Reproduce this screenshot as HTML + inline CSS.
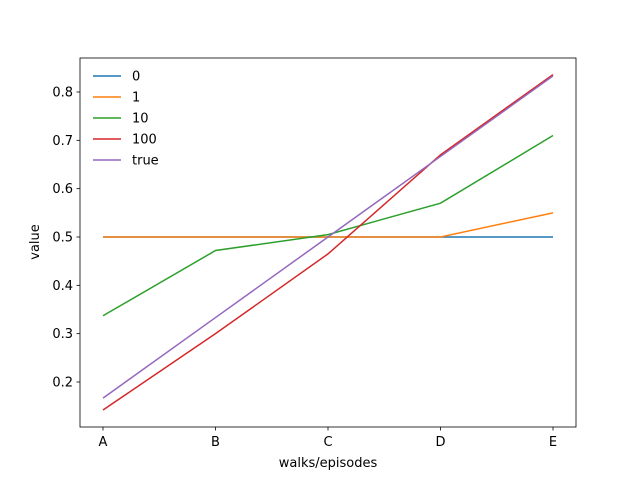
<!DOCTYPE html>
<html><head><meta charset="utf-8"><style>
body{margin:0;background:#fff;font-family:"Liberation Sans","DejaVu Sans",sans-serif;}
svg text{font-family:"DejaVu Sans","Liberation Sans",sans-serif;font-size:13px;fill:#000;}
</style></head><body>
<svg id="chart" width="640" height="480" viewBox="0 0 640 480" xmlns="http://www.w3.org/2000/svg">
<rect width="640" height="480" fill="#fff"/>
<g id="plot"></g>
<rect x="80" y="58" width="496" height="369" fill="none" stroke="#000" stroke-width="0.8"/>
<text x="328" y="467" text-anchor="middle">walks/episodes</text>
<text transform="translate(39,242) rotate(-90)" text-anchor="middle">value</text>
</svg>
<script>
const categories=["A","B","C","D","E"];
const seriesNames=["0","1","10","100","true"];
const s0=[0.5,0.5,0.5,0.5,0.5];
const s1=[0.5,0.5,0.5,0.5,0.55];
const s10=[0.337,0.472,0.505,0.57,0.71];
const s100=[0.142,0.30,0.465,0.67,0.836];
const sTrue=[0.1667,0.3333,0.5,0.6667,0.8333];
const yTicks=[0.2,0.3,0.4,0.5,0.6,0.7,0.8];
const colors=["#1f77b4","#ff7f0e","#2ca02c","#d62728","#9467bd"];
const allSeries=[s0,s1,s10,s100,sTrue];
const NS="http://www.w3.org/2000/svg";
const g=document.getElementById('plot');
function xS(i){return 103+i*112.5;}
function yS(v){return 382-(v-0.2)*483.33;}
function mk(t,a){const e=document.createElementNS(NS,t);for(const k in a)e.setAttribute(k,a[k]);g.appendChild(e);return e;}
categories.forEach((c,i)=>{
 const t=mk('line',{x1:xS(i),x2:xS(i),y1:427,y2:430.5,stroke:'#000','stroke-width':0.8});
 
 
 const l=mk('text',{x:xS(i),y:446,'text-anchor':'middle'});l.textContent=c;
 
 
});
yTicks.forEach(v=>{
 const t=mk('line',{x1:76.5,x2:80,y1:yS(v),y2:yS(v),stroke:'#000','stroke-width':0.8});
 
 
 const l=mk('text',{x:73,y:yS(v)+4.5,'text-anchor':'end'});l.textContent=v.toFixed(1);
 
 
});
allSeries.forEach((s,k)=>{
 const p=mk('polyline',{points:s.map((v,i)=>xS(i)+','+yS(v)).join(' '),fill:'none',stroke:colors[k],'stroke-width':1.5});
 
 
 const ly=76+k*21;
 const ll=mk('line',{x1:93,x2:121,y1:ly,y2:ly,stroke:colors[k],'stroke-width':1.5});
 
 
 const lt=mk('text',{x:132,y:ly+4.5});lt.textContent=seriesNames[k];
 
 
});
</script>
</body></html>
